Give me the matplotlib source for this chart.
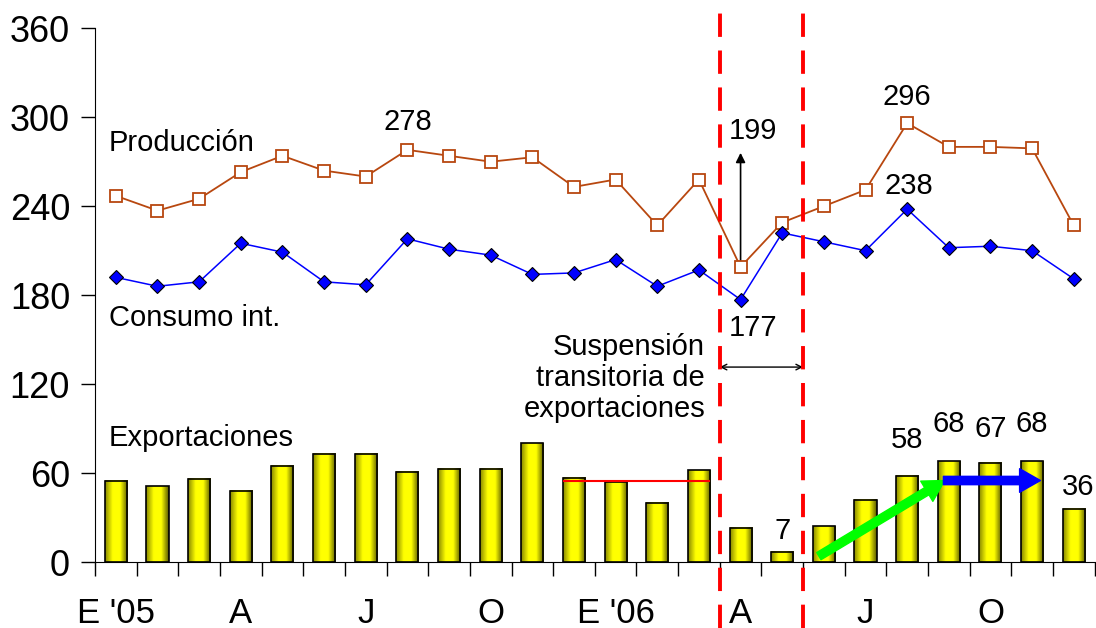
import matplotlib.pyplot as plt
import numpy as np
from matplotlib.colors import LinearSegmentedColormap

plt.rcParams['font.family'] = ['Liberation Sans', 'DejaVu Sans']

# monthly data, Jan 2005 - Dec 2006
produccion = [247, 237, 245, 263, 274, 264, 260, 278, 274, 270, 273, 253,
              258, 227, 258, 199, 229, 240, 251, 296, 280, 280, 279, 227]
consumo = [192, 186, 189, 215, 209, 189, 187, 218, 211, 207, 194, 195,
           204, 186, 197, 177, 222, 216, 210, 238, 212, 213, 210, 191]
exportaciones = [55, 51, 56, 48, 65, 73, 73, 61, 63, 63, 80, 57,
                 54, 40, 62, 23, 7, 24, 42, 58, 68, 67, 68, 36]
tick_pos = [0, 3, 6, 9, 12, 15, 18, 21]
tick_labels = ["E '05", 'A', 'J', 'O', "E '06", 'A', 'J', 'O']
yticks = [0, 60, 120, 180, 240, 300, 360]

x = np.arange(len(exportaciones))
fs = 21

fig = plt.figure(figsize=(10.96, 6.28), dpi=100)
ax = fig.add_axes([0.0867, 0.105, 0.912, 0.850])

# bars with a yellow gradient
cmap = LinearSegmentedColormap.from_list('yel', ['#8a8a00', '#ffff00', '#ffff00', '#5a5a00'])
grad = np.linspace(0, 1, 50).reshape(1, -1)
w = 0.53
for xi, h in zip(x, exportaciones):
    ax.imshow(grad, extent=[xi - w / 2, xi + w / 2, 0, h], aspect='auto',
              cmap=cmap, zorder=2)
ax.bar(x, exportaciones, width=w, facecolor='none', edgecolor='black',
       linewidth=1.2, zorder=3)

# lines
ax.plot(x, produccion, color='#b8470f', lw=1.3, marker='s', ms=9,
        mfc='white', mec='#b8470f', mew=1.3, zorder=4)
ax.plot(x, consumo, color='#0000ff', lw=1.1, marker='D', ms=7,
        mfc='#0000ff', mec='black', mew=0.8, zorder=4)

ax.set_xlim(-0.5, 23.5)
ax.set_ylim(0, 360)
ax.set_yticks(yticks)
ax.set_xticks(tick_pos)
ax.set_xticklabels(tick_labels)
ax.set_xticks(np.arange(-0.5, 24, 1), minor=True)
ax.tick_params(axis='x', which='major', length=0, pad=25, labelsize=25)
ax.tick_params(axis='x', which='minor', length=10, width=1)
ax.tick_params(axis='y', length=10, width=1, labelsize=26, pad=8)
for s in ['top', 'right']:
    ax.spines[s].set_visible(False)

# suspension window
for xv in [14.5, 16.5]:
    ax.plot([xv, xv], [-0.124, 1.03], transform=ax.get_xaxis_transform(),
            color='red', lw=2.8, ls=(0, (6, 3.5)), clip_on=False, zorder=5)
ax.annotate('', xy=(14.5, 131.5), xytext=(16.5, 131.5),
            arrowprops=dict(arrowstyle='<->', color='black', lw=1, shrinkA=0, shrinkB=0))
ax.text(14.15, 124, 'Suspensión\ntransitoria de\nexportaciones', ha='right',
        va='center', fontsize=fs, linespacing=1.15)

# labels
ax.text(-0.17, 282.5, 'Producción', fontsize=fs, va='center')
ax.text(-0.17, 164.5, 'Consumo int.', fontsize=fs, va='center')
ax.text(-0.17, 83.5, 'Exportaciones', fontsize=fs, va='center')
ax.text(7, 297, '278', fontsize=fs, ha='center', va='center')
ax.text(15.3, 290.5, '199', fontsize=fs, ha='center', va='center')
ax.text(15.3, 158, '177', fontsize=fs, ha='center', va='center')
ax.text(19.05, 253.5, '238', fontsize=fs, ha='center', va='center')
ax.text(19, 313.5, '296', fontsize=fs, ha='center', va='center')
ax.annotate('', xy=(15, 276), xytext=(15, 202),
            arrowprops=dict(arrowstyle='-|>', color='black', lw=1.2,
                            mutation_scale=14, shrinkA=0, shrinkB=0))
for xi, v in [(16, 21), (19, 82), (20, 93), (21, 90), (22, 93), (23.1, 50.5)]:
    ax.text(xi, v, str(exportaciones[int(round(xi))]), fontsize=fs,
            ha='center', va='center')

# reference line and trend arrows
ax.plot([10.76, 14.25], [55, 55], color='red', lw=1.5, zorder=4)
ax.annotate('', xy=(19.9, 55), xytext=(16.88, 4),
            arrowprops=dict(facecolor='#00ff00', edgecolor='#00ff00', width=6,
                            headwidth=17, headlength=15, shrink=0), zorder=6)
ax.annotate('', xy=(22.2, 55), xytext=(19.87, 55),
            arrowprops=dict(facecolor='#0000ff', edgecolor='#0000ff', width=6,
                            headwidth=17, headlength=15, shrink=0), zorder=6)

fig.savefig('out.png', dpi=100)
